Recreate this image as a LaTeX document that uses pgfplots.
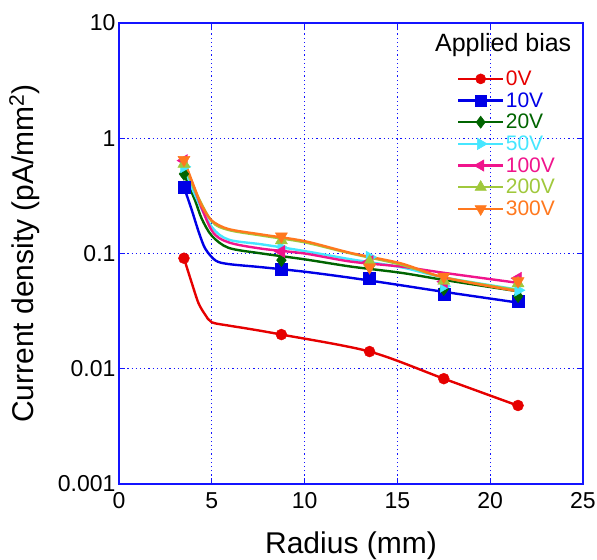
\documentclass[border=0pt]{standalone}
\usepackage{fontspec}
\setmainfont{Liberation Sans}
\usepackage{pgfplots}
\pgfplotsset{compat=1.18}

\definecolor{cRed}{RGB}{230,0,0}
\definecolor{cBlue}{RGB}{0,0,230}
\definecolor{cGreen}{RGB}{0,100,0}
\definecolor{cCyan}{RGB}{70,230,255}
\definecolor{cPink}{RGB}{240,20,140}
\definecolor{cOlive}{RGB}{160,200,60}
\definecolor{cOrange}{RGB}{255,120,30}
\definecolor{cAxis}{RGB}{20,20,255}

\begin{document}
\begin{tikzpicture}
\begin{axis}[
    name=ax,
    scale only axis, width=464pt, height=461pt,
    xmin=0, xmax=25, ymin=0.001, ymax=10, ymode=log,
    xtick={0,5,10,15,20,25},
    ytick={0.001,0.01,0.1,1,10}, yticklabels={0.001,0.01,0.1,1,10},
    yminorticks=false,
    axis line style={draw=cAxis, line width=1.5pt},
    every tick/.style={draw=cAxis, line width=1.2pt}, tick align=inside, major tick length=6pt,
    major tick style={draw=cAxis, line width=1.2pt},
    grid=major,
    major grid style={draw=cAxis, line width=1.2pt, dash pattern=on 1.2pt off 3pt},
    tick label style={font=\fontsize{23}{25}\selectfont, text=black},
    /pgf/number format/assume math mode=true,
    xticklabel shift=5pt,
    xlabel={Radius (mm)},
    ylabel={Current density (pA/mm\textsuperscript{2})},
    label style={font=\fontsize{30}{32}\selectfont},
    xlabel style={at={(axis description cs:0.5,-0.1497)}, anchor=base},
    ylabel style={at={(axis description cs:-0.1853,0.5)}, anchor=base},
    legend image code/.code={
        \draw[every mark/.append style={line width=0.6pt}] (0pt,0pt) -- (45pt,0pt);
        \draw[every mark/.append style={line width=0.6pt}] plot coordinates {(22.5pt,0pt)};
    },
    legend style={at={(0.728,0.9)}, anchor=north west, draw=none, fill=none,
        inner sep=0pt, row sep=2.5pt, nodes={inner sep=1.5pt},
        font=\fontsize{21}{21}\selectfont},
    legend cell align=left,
]
% fitted curves
\addplot[cRed, line width=2.4pt, smooth, forget plot] coordinates {
(3.5,0.091)(3.92,0.0556)(4.28,0.0372)(4.64,0.0295)(5.0,0.0253)(5.9,0.0237)(7.0,0.0222)(8.75,0.0198)(13.5,0.0141)(17.5,0.0082)(21.5,0.00478)};
\addplot[cBlue, line width=2.4pt, smooth, forget plot] coordinates {
(3.5,0.376)(3.9,0.244)(4.3,0.153)(4.65,0.11)(5.2,0.087)(5.9,0.081)(7.7,0.076)(10,0.0695)(12.5,0.0615)(15,0.0536)(17.5,0.0465)(21.5,0.0375)};
\addplot[cGreen, line width=2.4pt, smooth, forget plot] coordinates {
(3.5,0.49)(4.1,0.288)(4.46,0.2)(5.0,0.1425)(5.9,0.112)(7.7,0.1)(10,0.089)(12.5,0.077)(15.2,0.068)(17.5,0.059)(21.5,0.047)};
\addplot[cCyan, line width=2.4pt, smooth, forget plot] coordinates {
(3.5,0.565)(4.1,0.32)(5.0,0.17)(5.9,0.132)(7.7,0.12)(10,0.105)(12.5,0.089)(15.2,0.076)(17.5,0.062)(21.5,0.0486)};
\addplot[cPink, line width=2.4pt, smooth, forget plot] coordinates {
(3.5,0.64)(4.1,0.35)(5.0,0.158)(5.9,0.125)(7.7,0.11)(10,0.1)(12.5,0.085)(15.2,0.077)(17.5,0.068)(21.5,0.0556)};
\addplot[cOlive, line width=2.4pt, smooth, forget plot] coordinates {
(3.5,0.60)(4.1,0.35)(5.0,0.19)(5.9,0.16)(7.7,0.143)(10,0.125)(12.5,0.1)(15.2,0.08)(17.5,0.062)(21.5,0.048)};
\addplot[cOrange, line width=2.4pt, smooth, forget plot] coordinates {
(3.5,0.65)(4.1,0.36)(4.46,0.26)(5.0,0.193)(5.9,0.163)(7.7,0.146)(10,0.128)(12.5,0.101)(15.2,0.082)(17.5,0.062)(21.5,0.047)};
% measured points
\addplot[only marks, cRed, mark=*, mark size=5.5pt, forget plot] coordinates {
(3.5,0.091)(8.75,0.0198)(13.5,0.0141)(17.5,0.0082)(21.5,0.0048)};
\addplot[only marks, cBlue, mark=square*, mark size=6pt, forget plot] coordinates {
(3.5,0.376)(8.75,0.0726)(13.5,0.0607)(17.5,0.044)(21.5,0.0385)};
\addplot[only marks, cGreen, mark=diamond*, mark size=6.5pt, forget plot] coordinates {
(3.5,0.49)(8.75,0.0875)(13.5,0.078)(17.5,0.049)(21.5,0.0426)};
\addplot[only marks, cCyan, mark=triangle*, mark size=7pt, mark options={rotate=-90}, forget plot] coordinates {
(3.5,0.565)(8.75,0.112)(13.5,0.093)(17.5,0.052)(21.5,0.048)};
\addplot[only marks, cPink, mark=triangle*, mark size=7pt, mark options={rotate=90}, forget plot] coordinates {
(3.5,0.64)(8.75,0.104)(13.5,0.085)(17.5,0.057)(21.5,0.061)};
\addplot[only marks, cOlive, mark=triangle*, mark size=7pt, forget plot] coordinates {
(3.5,0.60)(8.75,0.13)(13.5,0.085)(17.5,0.058)(21.5,0.055)};
\addplot[only marks, cOrange, mark=triangle*, mark size=7pt, mark options={rotate=180}, forget plot] coordinates {
(3.5,0.65)(8.75,0.141)(13.5,0.076)(17.5,0.063)(21.5,0.0575)};

\addlegendimage{cRed, line width=2.4pt, mark=*, mark size=5pt}
\addlegendimage{cBlue, line width=2.4pt, mark=square*, mark size=5.5pt}
\addlegendimage{cGreen, line width=2.4pt, mark=diamond*, mark size=6pt}
\addlegendimage{cCyan, line width=2.4pt, mark=triangle*, mark size=6.5pt, mark options={rotate=-90}}
\addlegendimage{cPink, line width=2.4pt, mark=triangle*, mark size=6.5pt, mark options={rotate=90}}
\addlegendimage{cOlive, line width=2.4pt, mark=triangle*, mark size=6.5pt}
\addlegendimage{cOrange, line width=2.4pt, mark=triangle*, mark size=6.5pt, mark options={rotate=180}}
\legend{\textcolor{cRed}{0V},\textcolor{cBlue}{10V},\textcolor{cGreen}{20V},\textcolor{cCyan}{50V},\textcolor{cPink}{100V},\textcolor{cOlive}{200V},\textcolor{cOrange}{300V}}

\node[font=\fontsize{25}{25}\selectfont] at (rel axis cs:0.828,0.952) {Applied bias};
\draw[cAxis, line width=1.5pt] (rel axis cs:0,0) rectangle (rel axis cs:1,1);
\end{axis}
\pgfresetboundingbox
\path[use as bounding box] ([shift={(-119pt,-76pt)}]ax.south west) rectangle ([shift={(14pt,23pt)}]ax.north east);
\end{tikzpicture}
\end{document}
